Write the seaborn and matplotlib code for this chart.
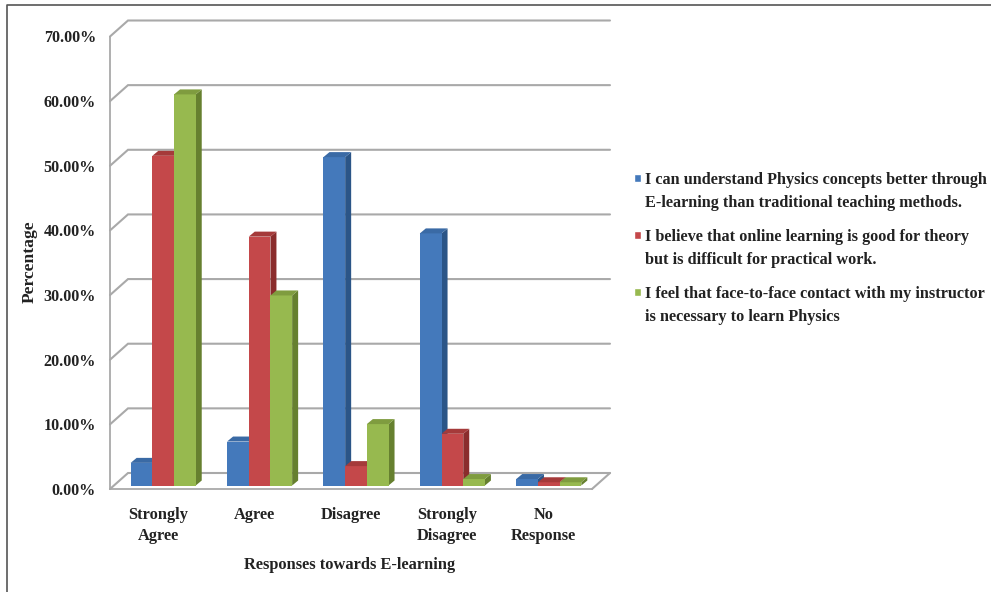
import matplotlib
matplotlib.use("Agg")
import matplotlib.pyplot as plt
import pandas as pd
import seaborn as sns
from matplotlib.legend_handler import HandlerPatch
from matplotlib.lines import Line2D
from matplotlib.patches import Polygon, Rectangle

categories = ["Strongly\nAgree", "Agree", "Disagree", "Strongly\nDisagree", "No\nResponse"]
statements = [
    "I can understand Physics concepts better through\nE-learning than traditional teaching methods.",
    "I believe that online learning is good for theory\nbut is difficult for practical work.",
    "I feel that face-to-face contact with my instructor\nis necessary to learn Physics",
]
understand_better = [3.5, 6.8, 50.8, 39.0, 1.0]
theory_only = [51.0, 38.5, 3.0, 8.0, 0.5]
face_to_face = [60.5, 29.4, 9.5, 1.0, 0.5]
y_ticks = [0, 10, 20, 30, 40, 50, 60, 70]

front_colors = ["#4479bb", "#c4484a", "#97b94f"]
side_colors = ["#2b5587", "#8a2c2c", "#66802f"]
top_colors = ["#3a6aa5", "#a53a3a", "#7f9c3f"]
grid_color = "#a9a9a9"
text_color = "#222222"

W, H = 991, 592
sns.set_theme(style="white")
plt.rcParams["font.family"] = ["Liberation Serif", "DejaVu Serif"]
plt.rcParams["font.weight"] = "bold"

fig = plt.figure(figsize=(W / 100, H / 100), dpi=100, facecolor="white")


def axes_box(left, top, right, bottom):
    return [left / W, 1 - bottom / H, (right - left) / W, (bottom - top) / H]


def first_line_square(legend, orig_handle, xdescent, ydescent, width, height, fontsize):
    # Legend key raised to sit beside the first line of a two-line entry
    return Rectangle((-xdescent, -ydescent + 10), width, height)


# Front plane of the chart: carries the ticks, labels and walls
ax = fig.add_axes(axes_box(110, 36.5, 592, 489))
ax.set_xlim(-0.5, 4.5)
ax.set_ylim(0, 70)
ax.patch.set_alpha(0)

px_x = 5 / 482      # data units per pixel, horizontal
px_y = 70 / 452.5   # data units per pixel, vertical
wall_dx, wall_dy = 18 * px_x, 16 * px_y

# Back wall gridlines with their slanted return to the left axis
for v in y_ticks:
    ax.plot([-0.5, -0.5 + wall_dx, 4.5 + wall_dx],
            [v, v + wall_dy, v + wall_dy],
            color=grid_color, lw=1.5, clip_on=False, zorder=1, solid_joinstyle="miter")
# Right edge of the floor
ax.plot([4.5, 4.5 + wall_dx], [0, wall_dy], color=grid_color, lw=1.5, clip_on=False, zorder=1)

sns.despine(ax=ax, top=True, right=True)
for side in ("left", "bottom"):
    ax.spines[side].set_color(grid_color)
    ax.spines[side].set_linewidth(1.3)

ax.set_yticks(y_ticks)
ax.set_yticklabels([f"{v:.2f}%" for v in y_ticks], fontsize=11.6, color=text_color)
ax.set_xticks(range(len(categories)))
ax.set_xticklabels(categories, fontsize=11.8, color=text_color, linespacing=1.4)
ax.set_xticks([i - 0.5 for i in range(len(categories) + 1)], minor=True)
ax.tick_params(axis="y", length=4, width=1.2, color=grid_color, pad=6)
ax.tick_params(axis="x", which="major", length=0, pad=13)
ax.tick_params(axis="x", which="minor", length=4, width=1.2, color=grid_color)
ax.set_xlabel("")
ax.set_ylabel("")

# Bars stand slightly behind the front plane, on the floor
ax_bars = fig.add_axes(axes_box(115, 33, 597, 485.5))
ax_bars.patch.set_alpha(0)

frame = pd.DataFrame({
    "category": categories * 3,
    "statement": [s for s in statements for _ in categories],
    "percent": understand_better + theory_only + face_to_face,
})
sns.barplot(data=frame, x="category", y="percent", hue="statement",
            order=categories, hue_order=statements, palette=front_colors,
            width=0.675, gap=0, saturation=1, errorbar=None, ax=ax_bars)
ax_bars.set_xlim(-0.5, 4.5)
ax_bars.set_ylim(0, 70)
handles, labels = ax_bars.get_legend_handles_labels()
ax_bars.get_legend().remove()
ax_bars.axis("off")

# Extrude each bar into a box: one side face and one top face
depth_x, depth_y = 6 * px_x, 5 * px_y
for i, container in enumerate(ax_bars.containers):
    for bar in container:
        x0, x1 = bar.get_x(), bar.get_x() + bar.get_width()
        h = bar.get_height()
        bar.set_zorder(3 + i)
        bar.set_linewidth(0)
        ax_bars.add_patch(Polygon(
            [(x1, 0), (x1 + depth_x, depth_y), (x1 + depth_x, h + depth_y), (x1, h)],
            closed=True, facecolor=side_colors[i], edgecolor="none",
            zorder=2.5 + i, clip_on=False))
        ax_bars.add_patch(Polygon(
            [(x0, h), (x0 + depth_x, h + depth_y), (x1 + depth_x, h + depth_y), (x1, h)],
            closed=True, facecolor=top_colors[i], edgecolor="none",
            zorder=3.2 + i, clip_on=False))

fig.text(350 / W, 1 - 565 / H, "Responses towards E-learning", ha="center", va="center",
         fontsize=11.8, color=text_color)
fig.text(30 / W, 1 - 262 / H, "Percentage", ha="center", va="center", rotation=90,
         fontsize=12.6, color=text_color)

legend = fig.legend(handles, labels, loc="upper left", bbox_to_anchor=(634 / W, 1 - 172 / H),
                    frameon=False, fontsize=11.7, labelcolor=text_color, handlelength=0.45,
                    handleheight=0.45, handletextpad=0.25, labelspacing=1.08, borderpad=0,
                    borderaxespad=0,
                    handler_map={Rectangle: HandlerPatch(patch_func=first_line_square)})
for label in legend.get_texts():
    label.set_linespacing(1.62)

# Thin outer frame along the top and left edges
fig.add_artist(Line2D([7 / W, 7 / W, 1], [0, 1 - 5 / H, 1 - 5 / H],
                      color="#555555", lw=1.2, transform=fig.transFigure))

fig.savefig("out.png", dpi=100, facecolor="white")
